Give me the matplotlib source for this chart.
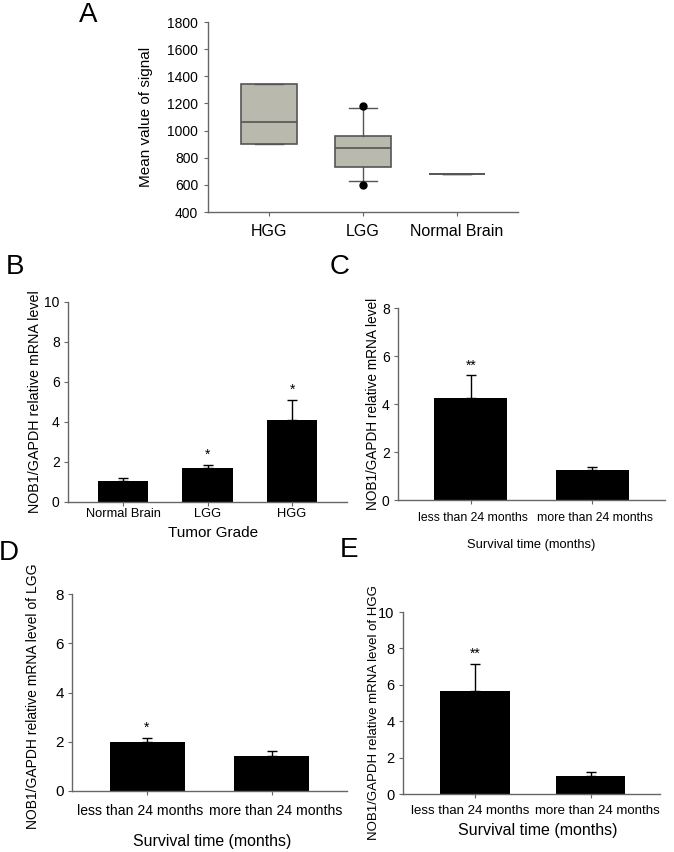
import matplotlib
matplotlib.use("Agg")
import matplotlib.pyplot as plt
import matplotlib.transforms as mtransforms
import numpy as np

plt.rcParams['font.family'] = ['Liberation Sans', 'DejaVu Sans']

# panel A - box plot of mean signal
a_groups = ['HGG', 'LGG', 'Normal Brain']
a_q1 = [900, 730, 680]
a_med = [1060, 870, 680]
a_q3 = [1340, 960, 680]
a_whislo = [900, 625, 680]
a_whishi = [1340, 1165, 680]
a_fliers = [[], [600, 1180], []]

# panel B
b_groups = ['Normal Brain', 'LGG', 'HGG']
b_mean = [1.05, 1.70, 4.08]
b_err = [0.15, 0.15, 1.02]
b_stars = ['', '*', '*']

# panels C, D, E
surv_groups = ['less than 24 months', 'more than 24 months']
c_mean = [4.25, 1.24]
c_err = [0.95, 0.135]
c_stars = ['**', '']
d_mean = [1.98, 1.43]
d_err = [0.19, 0.20]
d_stars = ['*', '']
e_mean = [5.68, 0.99]
e_err = [1.48, 0.20]
e_stars = ['**', '']

W, H = 674, 852
fig = plt.figure(figsize=(W / 100, H / 100), dpi=100)

spine_col = '#666666'


def add_ax(l, r, t, b):
    return fig.add_axes([l / W, 1 - b / H, (r - l) / W, (b - t) / H])


def style(ax):
    for s in ['top', 'right']:
        ax.spines[s].set_visible(False)
    for s in ['left', 'bottom']:
        ax.spines[s].set_color(spine_col)
        ax.spines[s].set_linewidth(1.0)
    ax.tick_params(colors=spine_col, length=3, width=0.8, labelcolor='black')


def bar_panel(ax, groups, mean, err, stars, ymax, ystep, tick_fs, pad, ylab, ylab_fs):
    x = np.arange(len(groups))
    ax.bar(x, mean, width=0.6, color='black', zorder=2)
    ax.errorbar(x, mean, yerr=[np.zeros(len(err)), err], fmt='none', ecolor='black',
                elinewidth=1.0, capsize=3.5, capthick=1.0, zorder=3)
    for xi, m, e, s in zip(x, mean, err, stars):
        if s:
            ax.annotate(s, (xi, m + e), xytext=(0, 2), textcoords='offset points',
                        ha='center', va='bottom', fontsize=10)
    ax.set_ylim(0, ymax)
    ax.set_yticks(np.arange(0, ymax + 0.1, ystep))
    ax.set_xticks(x)
    ax.set_xticklabels(groups, fontsize=tick_fs)
    ax.tick_params(axis='x', pad=pad)
    ax.tick_params(axis='y', labelsize=10, pad=3)
    ax.set_ylabel(ylab, fontsize=ylab_fs)
    style(ax)


def nudge_labels(ax, shifts_px):
    # move each x tick label sideways by a few pixels
    for lab, dx in zip(ax.get_xticklabels(), shifts_px):
        off = mtransforms.ScaledTranslation(dx / 100, 0, fig.dpi_scale_trans)
        lab.set_transform(lab.get_transform() + off)


# ---- A ----
axA = add_ax(208, 518, 22, 212)
stats = []
for i in range(3):
    stats.append(dict(med=a_med[i], q1=a_q1[i], q3=a_q3[i], whislo=a_whislo[i],
                      whishi=a_whishi[i], fliers=a_fliers[i]))
axA.bxp(stats, positions=[0, 1, 2], widths=0.6, patch_artist=True, showcaps=True,
        boxprops=dict(facecolor='#b9b9ad', edgecolor='#555555', linewidth=1.2),
        medianprops=dict(color='#555555', linewidth=1.2),
        whiskerprops=dict(color='#555555', linewidth=1.0),
        capprops=dict(color='#555555', linewidth=1.0),
        flierprops=dict(marker='o', markerfacecolor='black', markeredgecolor='black', markersize=5))
axA.set_xlim(-0.65, 2.65)
axA.set_ylim(400, 1800)
axA.set_yticks(np.arange(400, 1801, 200))
axA.set_xticks([0, 1, 2])
axA.set_xticklabels(a_groups, fontsize=11.5)
axA.tick_params(axis='x', pad=6)
axA.tick_params(axis='y', labelsize=10, pad=4)
axA.set_ylabel('Mean value of signal', fontsize=11)
style(axA)
axA.yaxis.set_label_coords(-0.178, 0.5)

# ---- B ----
axB = add_ax(68, 347, 302, 502)
bar_panel(axB, b_groups, b_mean, b_err, b_stars, 10, 2, 9.3, 1.5,
          'NOB1/GAPDH relative mRNA level', 10.3)
axB.set_xlim(-0.65, 2.65)
axB.set_xlabel('Tumor Grade', fontsize=11)
axB.xaxis.set_label_coords(0.52, -0.12)
axB.yaxis.set_label_coords(-0.092, 0.5)

# ---- C ----
axC = add_ax(398, 665, 308, 500)
bar_panel(axC, surv_groups, c_mean, c_err, c_stars, 8, 2, 8.8, 5.5,
          'NOB1/GAPDH relative mRNA level', 9.8)
axC.set_xlim(-0.6, 1.6)
axC.set_xlabel('Survival time (months)', fontsize=9.3)
axC.xaxis.set_label_coords(0.5, -0.205)
axC.yaxis.set_label_coords(-0.067, 0.5)
nudge_labels(axC, [2, 3])

# ---- D ----
axD = add_ax(72, 347, 594, 791)
bar_panel(axD, surv_groups, d_mean, d_err, d_stars, 8, 2, 10.1, 6.5,
          'NOB1/GAPDH relative mRNA level of LGG', 10)
axD.set_xlim(-0.6, 1.6)
axD.tick_params(axis='y', labelsize=11)
axD.set_xlabel('Survival time (months)', fontsize=11.4)
axD.xaxis.set_label_coords(0.508, -0.218)
axD.yaxis.set_label_coords(-0.116, 0.48)
nudge_labels(axD, [-7, 4])

# ---- E ----
axE = add_ax(403, 660, 612, 794)
bar_panel(axE, surv_groups, e_mean, e_err, e_stars, 10, 2, 9.5, 5,
          'NOB1/GAPDH relative mRNA level of HGG', 9.5)
axE.set_xlim(-0.62, 1.6)
axE.tick_params(axis='y', labelsize=10.5)
axE.set_xlabel('Survival time (months)', fontsize=11.5)
axE.xaxis.set_label_coords(0.525, -0.16)
axE.yaxis.set_label_coords(-0.09, 0.45)
nudge_labels(axE, [-5, 7])

# panel letters
for letter, px, py in [('A', 88, 15), ('B', 15, 267), ('C', 340, 267), ('D', 9, 553), ('E', 349, 550)]:
    fig.text(px / W, 1 - py / H, letter, fontsize=20, ha='center', va='center')

fig.savefig('out.png', dpi=100)
